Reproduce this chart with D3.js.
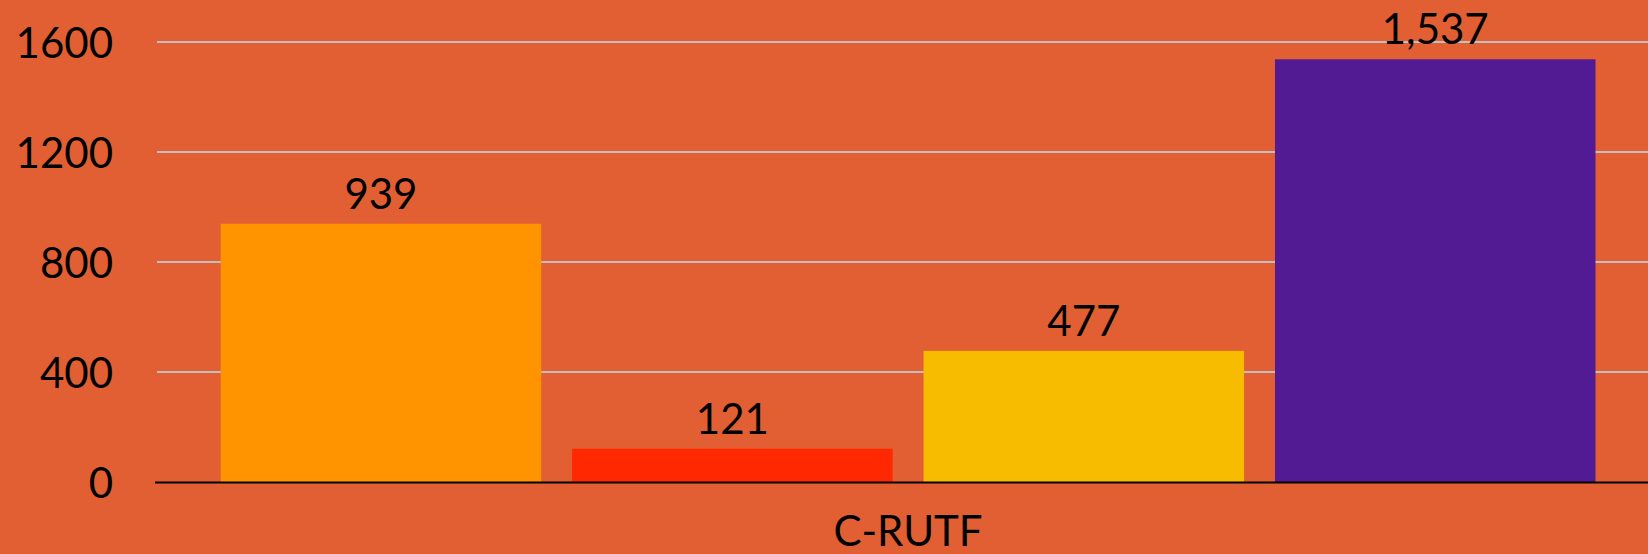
<!DOCTYPE html>
<html>
<head>
<meta charset="utf-8">
<script src="https://cdn.jsdelivr.net/npm/d3@7"></script>
<style>
  html, body { margin: 0; padding: 0; background: #E15F32; overflow: hidden; }
  svg { display: block; }
  text { font-family: "Lato", "DejaVu Sans", sans-serif; fill: #000; }
</style>
</head>
<body>
<svg id="chart" width="1648" height="554"></svg>
<script>
const categories = ["C-RUTF"];
const seriesNames = ["S1", "S2", "S3", "S4"];
const seriesValues = [939, 121, 477, 1537];
const seriesColors = ["#FF9400", "#FF2800", "#F7BB00", "#521B93"];
const yTicks = [0, 400, 800, 1200, 1600];

const W = 1648, H = 554;
const svg = d3.select("#chart");
svg.append("rect").attr("width", W).attr("height", H).attr("fill", "#E15F32");

const plotLeft = 156, plotRight = 1660;
const y = d3.scaleLinear().domain([0, 1600]).range([482, 42]);
const x0 = d3.scaleBand().domain(categories).range([plotLeft, plotRight]).padding(0);
const x1 = d3.scaleBand().domain(seriesNames)
  .range([64.7, x0.bandwidth() - 64.5]).paddingInner(0.088).paddingOuter(0);

// gridlines
const yAxis = d3.axisLeft(y).tickValues(yTicks).tickSize(0).tickPadding(0)
  .tickFormat(d3.format("d"));
svg.selectAll("line.grid").data(yTicks.filter(t => t > 0)).enter()
  .append("line").attr("class", "grid")
  .attr("x1", plotLeft + 1).attr("x2", W)
  .attr("y1", d => y(d)).attr("y2", d => y(d))
  .attr("stroke", "#BFBFBF").attr("stroke-width", 2.2);

// y axis labels
const gy = svg.append("g").attr("transform", "translate(113,0)").call(yAxis);
gy.select(".domain").remove();
gy.selectAll("text").attr("font-size", 42).attr("font-family", "Lato, sans-serif")
  .attr("fill", "#000").attr("dy", "0.36em");

// bars
const data = seriesNames.map((s, i) => ({ s, v: seriesValues[i], c: seriesColors[i] }));
const g = svg.append("g").attr("transform", `translate(${x0(categories[0])},0)`);
g.selectAll("rect.bar").data(data).enter().append("rect").attr("class", "bar")
  .attr("x", d => x1(d.s)).attr("width", x1.bandwidth())
  .attr("y", d => y(d.v)).attr("height", d => y(0) - y(d.v))
  .attr("fill", d => d.c);

// value labels
g.selectAll("text.val").data(data).enter().append("text").attr("class", "val")
  .attr("x", d => x1(d.s) + x1.bandwidth() / 2)
  .attr("y", d => y(d.v) - 15)
  .attr("text-anchor", "middle").attr("font-size", 42)
  .text(d => d3.format(",")(d.v));

// x axis line
svg.append("line").attr("x1", 155).attr("x2", W)
  .attr("y1", y(0) + 0.5).attr("y2", y(0) + 0.5)
  .attr("stroke", "#000").attr("stroke-width", 2);

// category label
const xAxis = d3.axisBottom(x0).tickSize(0).tickPadding(0);
const gx = svg.append("g").attr("transform", `translate(0,${y(0)})`).call(xAxis);
gx.select(".domain").remove();
gx.selectAll("text").attr("font-size", 42).attr("font-family", "Lato, sans-serif")
  .attr("fill", "#000").attr("dy", null).attr("y", 64);
</script>
</body>
</html>
